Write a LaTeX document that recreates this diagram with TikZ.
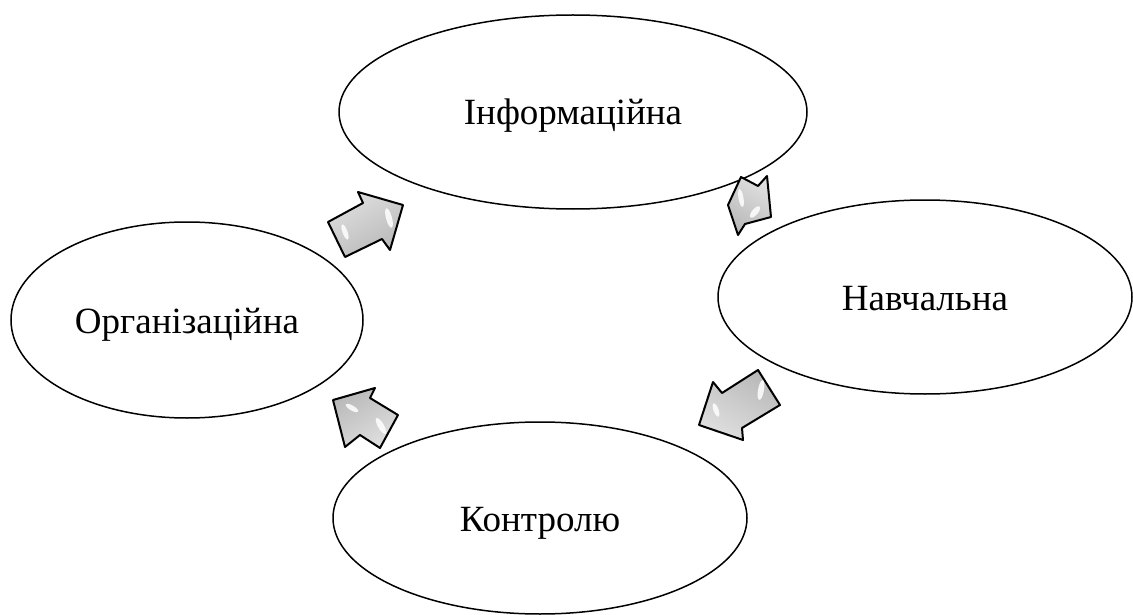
\documentclass[tikz,border=0pt]{standalone}
\usepackage{fontspec}
\setmainfont{Liberation Serif}
\newfontfamily\tnr{Liberation Serif}
\usetikzlibrary{shapes.geometric}
\tikzset{
  oval/.style={ellipse, draw=black, line width=1.5pt, fill=white, inner sep=0pt,
    font=\tnr\fontsize{37}{40}\selectfont, text height=26pt, text depth=0pt},
  blockarrow/.style={draw=black, line width=2pt, line join=round,
    top color=gray!25, bottom color=gray!55},
  gloss/.style={fill=white, draw=none, opacity=0.85}
}
\begin{document}
\begin{tikzpicture}[x=1pt,y=-1pt]
\useasboundingbox (0,0) rectangle (1133,615);
% ellipses
\node[oval, minimum width=468pt, minimum height=194pt] (info) at (573,112) {Інформаційна};
\node[oval, minimum width=352pt, minimum height=196pt] (org) at (187,320) {Організаційна};
\node[oval, minimum width=414pt, minimum height=192pt] (ctrl) at (540,518) {Контролю};
\node[oval, minimum width=414pt, minimum height=194pt] (edu) at (925,297) {Навчальна};
% arrow org -> info
\shadedraw[blockarrow, shading angle=30] (328,222) -- (363,203) -- (358,192) -- (403,205) -- (390,250) -- (382,239) -- (345,257) -- cycle;
\fill[gloss, rotate around={20:(345,232)}] (345,232) ellipse (2.5 and 8);
\fill[gloss, rotate around={15:(389,218)}] (389,218) ellipse (3 and 10);
% arrow info -> edu
\shadedraw[blockarrow, shading angle=-30] (741,177) -- (758,186) -- (767,176) -- (771,217) -- (745,224) -- (738,235) -- (728,205) -- cycle;
\fill[gloss, rotate around={10:(741,198)}] (741,198) ellipse (2.5 and 9);
\fill[gloss, rotate around={-40:(755,212)}] (755,212) ellipse (3 and 7);
% arrow edu -> ctrl
\shadedraw[blockarrow, shading angle=150] (699,425) -- (713,382) -- (722,393) -- (758,370) -- (780,405) -- (742,428) -- (743,440) -- cycle;
\fill[gloss, rotate around={-10:(761,390)}] (761,390) ellipse (3 and 10);
\fill[gloss, rotate around={20:(716,410)}] (716,410) ellipse (2.5 and 7);
% arrow ctrl -> org
\shadedraw[blockarrow, shading angle=-150] (333,400) -- (375,388) -- (370,398) -- (398,415) -- (380,448) -- (360,435) -- (345,447) -- cycle;
\fill[gloss, rotate around={60:(352,408)}] (352,408) ellipse (2.5 and 7);
\fill[gloss, rotate around={30:(381,426)}] (381,426) ellipse (3 and 9);
\end{tikzpicture}
\end{document}
